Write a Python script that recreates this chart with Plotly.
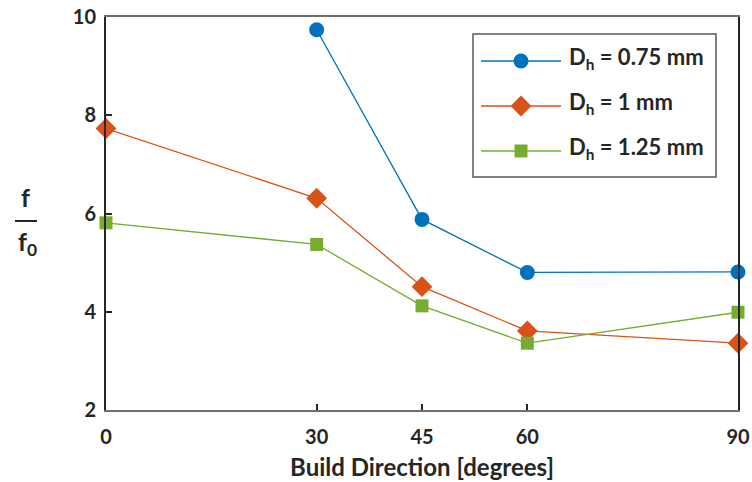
import plotly.graph_objects as go

build_dir = [0, 30, 45, 60, 90]
dh_075 = [None, 9.74, 5.88, 4.80, 4.81]
dh_1 = [7.73, 6.31, 4.51, 3.61, 3.36]
dh_125 = [5.81, 5.37, 4.12, 3.36, 3.99]
names = ["D<sub>h</sub> = 0.75 mm", "D<sub>h</sub> = 1 mm", "D<sub>h</sub> = 1.25 mm"]
colors = ["#0072BD", "#D95319", "#77AC30"]
symbols = ["circle", "diamond", "square"]
sizes = [15, 16, 13]
x_ticks = [0, 30, 45, 60, 90]
y_ticks = [2, 4, 6, 8, 10]

FONT = "Lato"
TXT = "#262626"
GREY = "#6e6e6e"

# plot area in pixels
L, R, T, B = 106, 738, 17, 410
PW, PH = R - L, B - T
def px(xp):
    return (xp - L) / PW
def py(yp):
    return (B - yp) / PH

fig = go.Figure()
for ys, nm, c, s, sz in zip([dh_075, dh_1, dh_125], names, colors, symbols, sizes):
    fig.add_trace(go.Scatter(
        x=build_dir, y=ys, name=nm, mode="lines+markers",
        line=dict(color=c, width=1.3),
        marker=dict(color=c, symbol=s, size=sz, line=dict(width=0)),
        connectgaps=False, cliponaxis=False, showlegend=False,
    ))

# custom legend (box, sample lines with markers, labels)
leg_rows = [61, 106, 151]
fig.add_shape(type="rect", xref="paper", yref="paper",
              x0=px(473), x1=px(716), y0=py(34), y1=py(177),
              line=dict(color="#5a5a5a", width=1.5), fillcolor="white", layer="below")
for yrow, nm, c, s, sz in zip(leg_rows, names, colors, symbols, sizes):
    fig.add_trace(go.Scatter(
        x=[px(481), px(521), px(561)], y=[py(yrow)] * 3, xaxis="x2", yaxis="y2",
        mode="lines", line=dict(color=c, width=1.3), showlegend=False, hoverinfo="skip",
    ))
    fig.add_trace(go.Scatter(
        x=[px(521)], y=[py(yrow)], xaxis="x2", yaxis="y2",
        mode="markers", marker=dict(color=c, symbol=s, size=sz, line=dict(width=0)),
        showlegend=False, hoverinfo="skip",
    ))
    fig.add_annotation(xref="paper", yref="paper", x=px(567), y=py(yrow - 3),
                       text=nm, showarrow=False, xanchor="left", yanchor="middle",
                       font=dict(family=FONT, size=22, weight="bold", color=TXT))

fig.update_layout(
    width=752, height=482,
    margin=dict(l=L, r=752 - R, t=T, b=482 - B),
    plot_bgcolor="white", paper_bgcolor="white",
    font=dict(family=FONT, color=TXT, size=20, weight="bold"),
    showlegend=False,
    xaxis=dict(
        range=[0, 90], tickvals=x_ticks, ticks="inside", ticklen=6,
        tickcolor=TXT, tickwidth=2, showgrid=False, zeroline=False,
        showline=True, linecolor=GREY, linewidth=2, mirror=True,
        automargin=False, ticklabelstandoff=8,
        title=dict(text="Build Direction [degrees]", font=dict(size=24, weight="bold"), standoff=12),
        tickfont=dict(size=20, weight="bold"),
    ),
    yaxis=dict(
        range=[2, 10], tickvals=y_ticks, ticks="inside", ticklen=6,
        tickcolor=TXT, tickwidth=2, showgrid=False, zeroline=False,
        showline=True, linecolor=TXT, linewidth=2, mirror=True,
        automargin=False, ticklabelstandoff=4,
        tickfont=dict(size=20, weight="bold"),
    ),
    xaxis2=dict(overlaying="x", range=[0, 1], visible=False, domain=[0, 1]),
    yaxis2=dict(overlaying="y", range=[0, 1], visible=False, domain=[0, 1]),
)

# y-axis title as fraction f / f0
fig.add_annotation(xref="paper", yref="paper", x=px(25), y=py(197),
                   text="f", showarrow=False, font=dict(size=25, weight="bold", color=TXT),
                   xanchor="center", yanchor="middle")
fig.add_annotation(xref="paper", yref="paper", x=px(27), y=py(243),
                   text="f<sub>0</sub>", showarrow=False, font=dict(size=25, weight="bold", color=TXT),
                   xanchor="center", yanchor="middle")
fig.add_shape(type="line", xref="paper", yref="paper",
              x0=px(15), x1=px(37), y0=py(221), y1=py(221),
              line=dict(color=TXT, width=2))

fig.write_html("out.html")
